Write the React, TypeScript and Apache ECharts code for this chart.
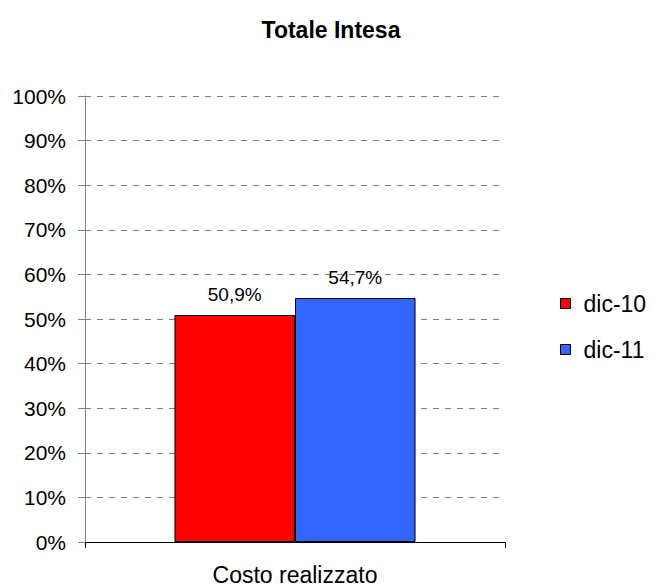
import React, { useEffect, useRef } from "react";
import * as echarts from "echarts";

const categories = ["Costo realizzato"];
const seriesNames = ["dic-10", "dic-11"];
const dic10 = [50.9];
const dic11 = [54.7];
const colors = ["#FF0000", "#3366FF"];

export default function App() {
  const ref = useRef<HTMLDivElement>(null);
  useEffect(() => {
    const chart = echarts.init(ref.current!, null, { renderer: "svg" });
    const font = "'Liberation Sans', Arial, sans-serif";
    const label = {
      show: true,
      position: "top" as const,
      distance: 11,
      fontFamily: font,
      fontSize: 19,
      color: "#000",
      formatter: (p: any) => p.value.toFixed(1).replace(".", ",") + "%",
    };
    chart.setOption({
      animation: false,
      backgroundColor: "#fff",
      title: {
        text: "Totale Intesa",
        left: 326,
        top: 13,
        textAlign: "center",
        textStyle: { fontFamily: font, fontSize: 23, fontWeight: "bold", color: "#000" },
      },
      legend: {
        orient: "vertical",
        left: 555,
        top: 287,
        itemWidth: 10,
        itemHeight: 10,
        itemGap: 23,
        icon: "rect",
        textStyle: { fontFamily: font, fontSize: 23, color: "#000", padding: [0, 0, 0, 8] },
        data: seriesNames.map((n, i) => ({
          name: n,
          itemStyle: { color: colors[i], borderColor: "#000", borderWidth: 1 },
        })),
      },
      grid: { left: 85, right: 148, top: 96, bottom: 44, containLabel: false },
      xAxis: {
        type: "category",
        data: categories,
        boundaryGap: true,
        axisLine: { lineStyle: { color: "#000", width: 1 } },
        axisTick: { show: true, alignWithLabel: false, length: 6, lineStyle: { color: "#000" } },
        axisLabel: { fontFamily: font, fontSize: 23, color: "#000", margin: 21 },
      },
      yAxis: {
        type: "value",
        min: 0,
        max: 100,
        interval: 10,
        axisLine: { show: true, lineStyle: { color: "#808080", width: 1 } },
        axisTick: { show: true, inside: false, length: 7, lineStyle: { color: "#808080" } },
        axisLabel: {
          fontFamily: font,
          fontSize: 21,
          color: "#000",
          margin: 19,
          formatter: "{value}%",
        },
        splitLine: { show: true, lineStyle: { color: "#808080", type: [6, 6], width: 1 } },
      },
      series: [
        {
          name: seriesNames[0],
          type: "bar",
          data: dic10,
          barGap: "0%",
          barCategoryGap: "42.6%",
          itemStyle: { color: colors[0], borderColor: "#000", borderWidth: 1 },
          label,
        },
        {
          name: seriesNames[1],
          type: "bar",
          data: dic11,
          barGap: "0%",
          barCategoryGap: "42.6%",
          itemStyle: { color: colors[1], borderColor: "#000", borderWidth: 1 },
          label,
        },
      ],
    });
    return () => chart.dispose();
  }, []);
  return (
    <div
      ref={ref}
      style={{ position: "absolute", left: 0, top: 0, width: 653, height: 586 }}
    />
  );
}
